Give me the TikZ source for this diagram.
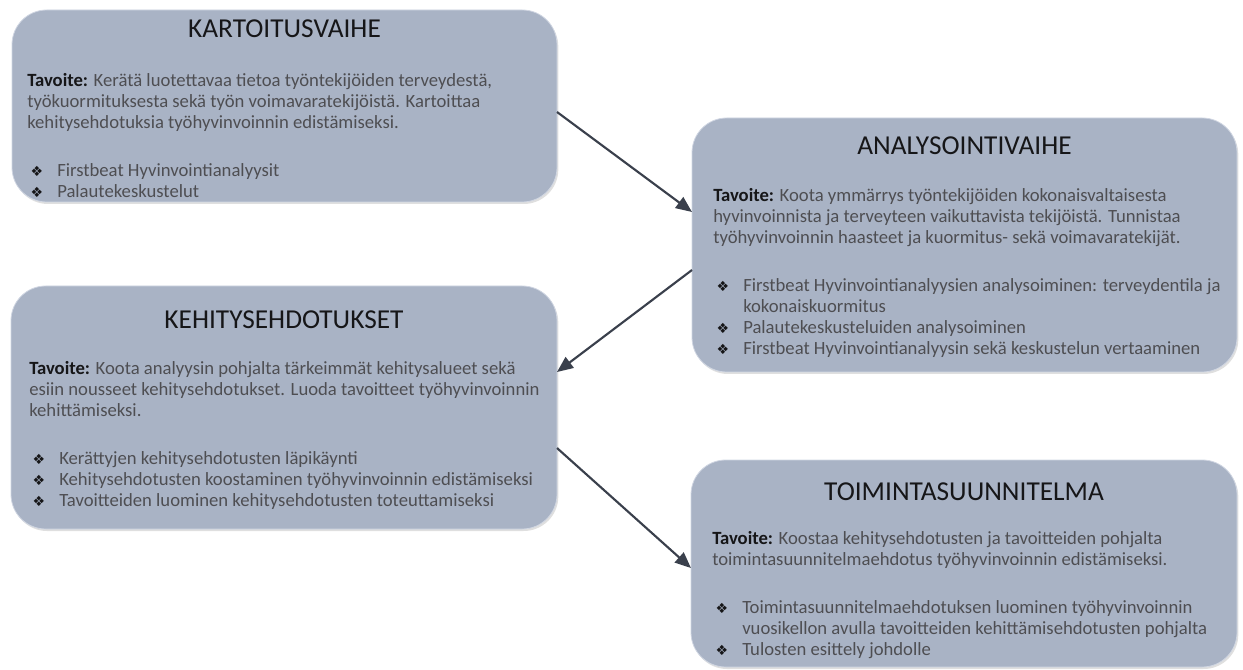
\documentclass[tikz,border=0pt]{standalone}
\usepackage{fontspec}
\setmainfont{Carlito}
\newfontfamily\merkkifontti{DejaVu Sans}
\usetikzlibrary{arrows.meta,shadows}

\definecolor{laatikkovari}{RGB}{169,179,197}
\definecolor{reunavari}{RGB}{208,214,226}
\definecolor{nuolivari}{RGB}{58,64,76}
\definecolor{tekstivari}{RGB}{78,78,82}
\definecolor{otsikkovari}{RGB}{22,22,24}

\tikzset{
  laatikko/.style 2 args={draw=reunavari, line width=0.6pt, fill=laatikkovari, rounded corners=26pt,
    minimum width=#1*0.75pt, minimum height=#2*0.75pt, inner sep=0pt, outer sep=0pt, anchor=north west,
    drop shadow={opacity=0.25, shadow xshift=1pt, shadow yshift=-1.5pt}},
  otsikko/.style={anchor=base, inner sep=0pt, font=\fontsize{20.5}{24}\selectfont, text=otsikkovari},
  leipa/.style={anchor=north west, inner sep=0pt, align=left, font=\fontsize{14}{15.75}\selectfont, text=tekstivari},
  nuoli/.style={draw=nuolivari, line width=1.6pt, -{Triangle[length=12pt,width=10pt]}}
}
\newcommand{\tavoite}{\textcolor{otsikkovari}{\textbf{Tavoite:}}}
\newcommand{\luoti}{\makebox[22.5pt][l]{\hspace{2.5pt}\raisebox{0.3pt}{\textcolor{otsikkovari}{\merkkifontti\fontsize{10.5}{10.5}\selectfont ❖}}}}
\newcommand{\jatko}{\hspace*{22.5pt}}

\begin{document}
\begin{tikzpicture}[x=0.75pt, y=-0.75pt]
\useasboundingbox (0,0) rectangle (1243,670);

% Laatikot
\node[laatikko={545}{192}] (kartoitus) at (12,10) {};
\node[laatikko={545}{254}] (analysointi) at (692,118) {};
\node[laatikko={546}{243}] (kehitys) at (11,286) {};
\node[laatikko={546}{207}] (toiminta) at (691,460) {};

% Otsikot
\node[otsikko] (kartoitusOts) at (284.5,38) {KARTOITUSVAIHE};
\node[otsikko] (analysointiOts) at (964.5,155) {ANALYSOINTIVAIHE};
\node[otsikko] (kehitysOts) at (284,329) {KEHITYSEHDOTUKSET};
\node[otsikko] (toimintaOts) at (964,500) {TOIMINTASUUNNITELMA};

% Tekstit
\node[leipa] (kartoitusTeksti) at (27,73.5) {\tavoite{} Kerätä luotettavaa tietoa työntekijöiden terveydestä,\\
  työkuormituksesta sekä työn voimavaratekijöistä. Kartoittaa\\
  kehitysehdotuksia työhyvinvoinnin edistämiseksi.\\[20pt]
  \luoti Firstbeat Hyvinvointianalyysit\\
  \luoti Palautekeskustelut};
\node[leipa] (analysointiTeksti) at (713,188.5) {\tavoite{} Koota ymmärrys työntekijöiden kokonaisvaltaisesta\\
  hyvinvoinnista ja terveyteen vaikuttavista tekijöistä. Tunnistaa\\
  työhyvinvoinnin haasteet ja kuormitus- sekä voimavaratekijät.\\[20pt]
  \luoti Firstbeat Hyvinvointianalyysien analysoiminen: terveydentila ja\\
  \jatko kokonaiskuormitus\\
  \luoti Palautekeskusteluiden analysoiminen\\
  \luoti Firstbeat Hyvinvointianalyysin sekä keskustelun vertaaminen};
\node[leipa] (kehitysTeksti) at (29,361.5) {\tavoite{} Koota analyysin pohjalta tärkeimmät kehitysalueet sekä\\
  esiin nousseet kehitysehdotukset. Luoda tavoitteet työhyvinvoinnin\\
  kehittämiseksi.\\[20pt]
  \luoti Kerättyjen kehitysehdotusten läpikäynti\\
  \luoti Kehitysehdotusten koostaminen työhyvinvoinnin edistämiseksi\\
  \luoti Tavoitteiden luominen kehitysehdotusten toteuttamiseksi};
\node[leipa] (toimintaTeksti) at (712,531.5) {\tavoite{} Koostaa kehitysehdotusten ja tavoitteiden pohjalta\\
  toimintasuunnitelmaehdotus työhyvinvoinnin edistämiseksi.\\[20pt]
  \luoti Toimintasuunnitelmaehdotuksen luominen työhyvinvoinnin\\
  \jatko vuosikellon avulla tavoitteiden kehittämisehdotusten pohjalta\\
  \luoti Tulosten esittely johdolle};

% Nuolet
\draw[nuoli] ([yshift=-4.5pt]kartoitus.east) -- ([yshift=24.75pt]analysointi.west);
\draw[nuoli] ([yshift=-18.75pt]analysointi.west) -- ([yshift=26.6pt]kehitys.east);
\draw[nuoli] ([yshift=-30.4pt]kehitys.east) -- ([yshift=-3.4pt]toiminta.west);

\end{tikzpicture}
\end{document}
